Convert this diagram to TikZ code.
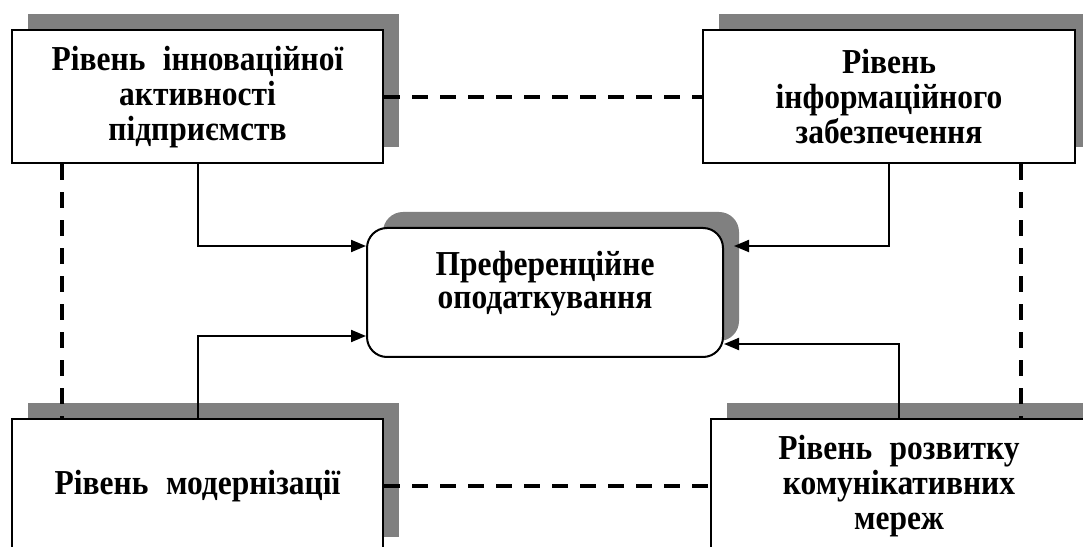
\documentclass[tikz,border=0pt]{standalone}
\usepackage{fontspec}
\setmainfont{Liberation Serif}[FakeStretch=0.9]
\usetikzlibrary{shadows,arrows.meta}
\newcommand{\wgap}{\hspace{0.5em}}
\tikzset{%
  level box/.style={
    rectangle,
    draw,
    line width=2pt,
    fill=white,
    minimum width=371pt,
    minimum height=133pt,
    text width=350pt,
    align=center,
    font=\fontsize{35pt}{35pt}\selectfont\bfseries,
    drop shadow={shadow xshift=16pt, shadow yshift=16pt, fill=black!50, opacity=1}
  },
  target box/.style={
    level box,
    rounded corners=20pt,
    minimum width=356pt,
    minimum height=129pt,
    text width=330pt,
    font=\fontsize{35pt}{33pt}\selectfont\bfseries
  },
  link/.style={line width=2pt, ->},
  tie/.style={line width=4pt, dash pattern=on 16pt off 12pt},
}

\begin{document}
\begin{tikzpicture}[x=1pt, y=1pt, > = {Triangle[length=15pt, width=12pt]}]
\useasboundingbox (0,0) rectangle (1083,546);
\node[level box] (innov) at (197.5,449) {Рівень\wgap інноваційної\\ активності\\ підприємств};
\node[level box, minimum width=372pt] (inform) at (889,449) {Рівень\\ інформаційного\\ забезпечення};
\node[level box] (modern) at (197.5,60) {Рівень\wgap модернізації};
\node[level box, minimum width=376pt] (komun) at (899,60) {Рівень\wgap розвитку\\ комунікативних\\ мереж};
\node[target box, text height=25pt, text depth=58pt] (pref) at (545,253.5) {Преференційне\\ оподаткування};

% dashed ties between the levels
\draw[tie] (innov.east) -- (inform.west);
\draw[tie] (modern.east) -- (komun.west);
\draw[tie] ([xshift=51pt]innov.south west) -- ([xshift=51pt]modern.north west);
\draw[tie] ([xshift=-55pt]inform.south east) -- ([xshift=-55pt]inform.south east |- komun.north);

% influence on the preferential taxation
\draw[link] (innov.south) |- ([yshift=-19pt]pref.north west);
\draw[link] (modern.north) |- ([yshift=22pt]pref.south west);
\draw[link] (inform.south) |- ([xshift=10pt, yshift=-19pt]pref.north east);
\draw[link] (komun.north) |- ([yshift=14pt]pref.south east);
\end{tikzpicture}
\end{document}
